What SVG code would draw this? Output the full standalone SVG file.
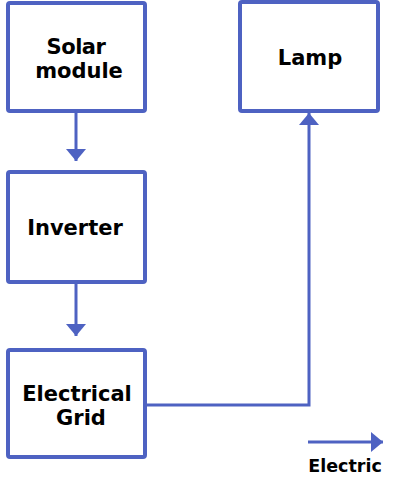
<svg xmlns="http://www.w3.org/2000/svg" width="400" height="489" viewBox="0 0 400 489">
<style>
.box{fill:#fff;stroke:#4E62C2;stroke-width:4;stroke-linejoin:round}
.lbl{font-family:"DejaVu Sans",sans-serif;font-weight:bold;font-size:21px;fill:#000;text-anchor:middle}
.conn{fill:none;stroke:#4E62C2;stroke-width:3}
</style>
<defs>
<marker id="ah" viewBox="0 0 12 20" refX="12" refY="10" markerWidth="12" markerHeight="20" markerUnits="userSpaceOnUse" orient="auto">
<path d="M0,0 L12,10 L0,20 Z" fill="#4E62C2"/>
</marker>
</defs>
<rect width="400" height="489" fill="#fff"/>
<g id="solar">
<rect class="box" x="8" y="3" width="137" height="108" rx="2"/>
<text class="lbl" x="76" y="54" letter-spacing="-0.5">Solar</text>
<text class="lbl" x="79" y="78">module</text>
</g>
<g id="inverter">
<rect class="box" x="8" y="172" width="137" height="110" rx="2"/>
<text class="lbl" x="75" y="235">Inverter</text>
</g>
<g id="grid">
<rect class="box" x="8" y="350" width="137" height="107" rx="2"/>
<text class="lbl" x="77" y="401">Electrical</text>
<text class="lbl" x="81" y="425">Grid</text>
</g>
<g id="lamp">
<rect class="box" x="240" y="2" width="138" height="109" rx="2"/>
<text class="lbl" x="310" y="65">Lamp</text>
</g>
<g id="connectors">
<path class="conn" d="M76,113 L76,161" marker-end="url(#ah)"/>
<path class="conn" d="M76,284 L76,336" marker-end="url(#ah)"/>
<path class="conn" d="M147,405 L309,405 L309,113" marker-end="url(#ah)"/>
<path class="conn" d="M308,442 L383,442" marker-end="url(#ah)"/>
</g>
<g id="legend">
<text x="345" y="472" style="font-family:'DejaVu Sans',sans-serif;font-weight:bold;font-size:17.5px;text-anchor:middle">Electric</text>
</g>
</svg>
